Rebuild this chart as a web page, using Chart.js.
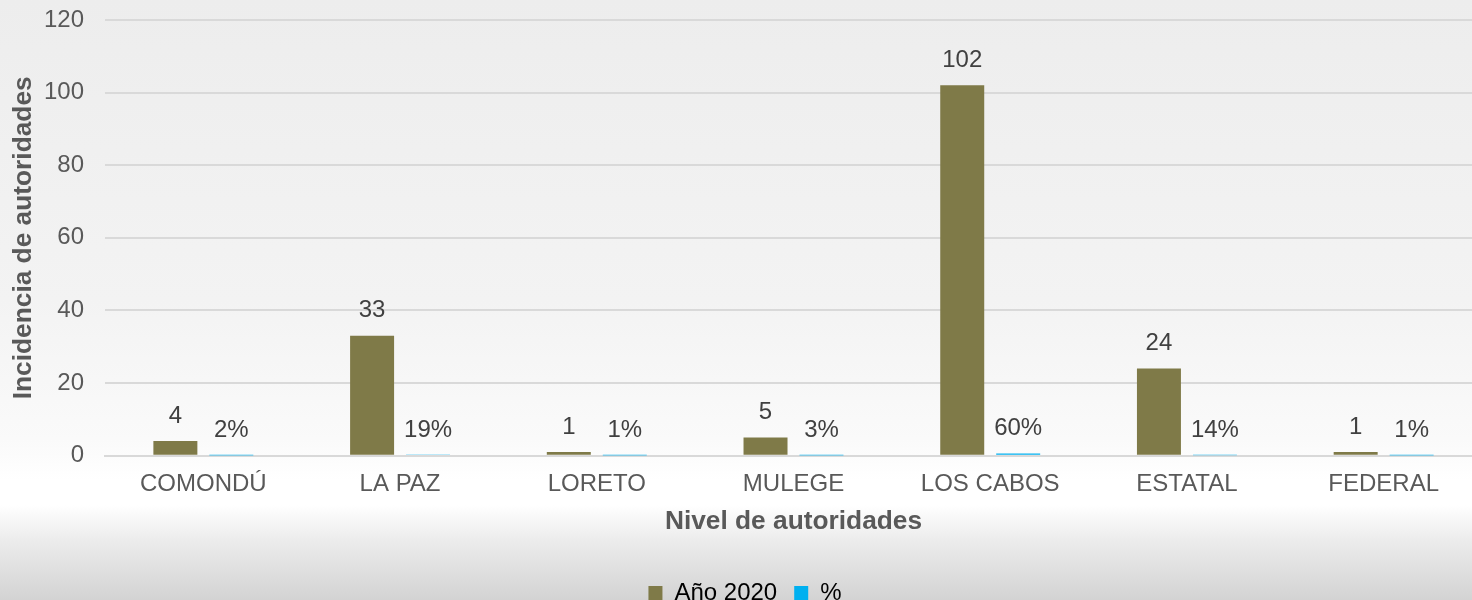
<!DOCTYPE html>
<html>
<head>
<meta charset="utf-8">
<script src="https://cdn.jsdelivr.net/npm/chart.js@4.4.1/dist/chart.umd.min.js"></script>
<style>
  html, body { margin: 0; padding: 0; width: 1472px; height: 600px; overflow: hidden; }
  body { background: linear-gradient(to bottom, #ededed 0px, #f3f3f3 300px, #fafafa 440px, #ffffff 480px, #ffffff 505px, #ececec 540px, #d3d3d3 600px); }
  #wrap { position: absolute; left: 0; top: 0; width: 1490px; height: 600px; }
</style>
</head>
<body>
<div id="wrap"><canvas id="c" width="1490" height="600"></canvas></div>
<script>
const categories = ["COMONDÚ", "LA PAZ", "LORETO", "MULEGE", "LOS CABOS", "ESTATAL", "FEDERAL"];
const anio2020 = [4, 33, 1, 5, 102, 24, 1];
const porcentaje = [0.02, 0.19, 0.01, 0.03, 0.60, 0.14, 0.01];
const yTicks = [0, 20, 40, 60, 80, 100, 120];

const FONT = "'Liberation Sans', Arial, sans-serif";

const labelPlugin = {
  id: 'valueLabels',
  afterDatasetsDraw(chart) {
    const ctx = chart.ctx;
    ctx.save();
    ctx.font = "24px " + FONT;
    ctx.fillStyle = "#404040";
    ctx.textAlign = "center";
    ctx.textBaseline = "middle";
    chart.data.datasets.forEach((ds, di) => {
      const meta = chart.getDatasetMeta(di);
      meta.data.forEach((el, i) => {
        const v = ds.data[i];
        const txt = di === 1 ? Math.round(v * 100) + "%" : String(v);
        ctx.fillText(txt, el.x, el.y - 25);
      });
    });
    ctx.restore();
  }
};

new Chart(document.getElementById('c'), {
  type: 'bar',
  data: {
    labels: categories,
    datasets: [
      { label: 'Año 2020', data: anio2020, backgroundColor: '#7f7a48', barPercentage: 0.786, categoryPercentage: 0.569 },
      { label: '%', data: porcentaje, backgroundColor: '#00b0f0', barPercentage: 0.786, categoryPercentage: 0.569 }
    ]
  },
  options: {
    responsive: false,
    animation: false,
    layout: { padding: { left: 8, right: 8, top: 20, bottom: -15 } },
    plugins: {
      legend: {
        position: 'bottom',
        labels: {
          font: { size: 24, family: FONT },
          color: '#595959',
          boxWidth: 14,
          boxHeight: 14,
          padding: 17,
          generateLabels(chart) {
            return chart.data.datasets.map((ds, i) => ({
              text: ds.label, fillStyle: ds.backgroundColor, strokeStyle: ds.backgroundColor,
              lineWidth: 0, datasetIndex: i, hidden: false
            }));
          }
        }
      },
      tooltip: { enabled: false }
    },
    scales: {
      x: {
        grid: { display: false, drawTicks: false },
        border: { display: true, color: '#d9d9d9', width: 2 },
        ticks: { font: { size: 24, family: FONT }, color: '#595959', padding: 14 },
        title: { display: true, text: 'Nivel de autoridades', font: { size: 26.3, weight: 'bold', family: FONT }, color: '#595959', padding: { top: -6, bottom: 26 } }
      },
      y: {
        min: 0, max: 120,
        afterBuildTicks(axis) { axis.ticks = yTicks.map(v => ({ value: v })); },
        afterFit(axis) { axis.width = 97; axis.paddingTop = 0; },
        grid: { color: '#d9d9d9', lineWidth: 2, drawTicks: false },
        border: { display: false },
        ticks: { font: { size: 24, family: FONT }, color: '#595959', padding: 21 },
        title: { display: true, text: 'Incidencia de autoridades', font: { size: 26.3, weight: 'bold', family: FONT }, color: '#595959', padding: { top: 0, bottom: 0 } }
      }
    }
  },
  plugins: [labelPlugin]
});
</script>
</body>
</html>
